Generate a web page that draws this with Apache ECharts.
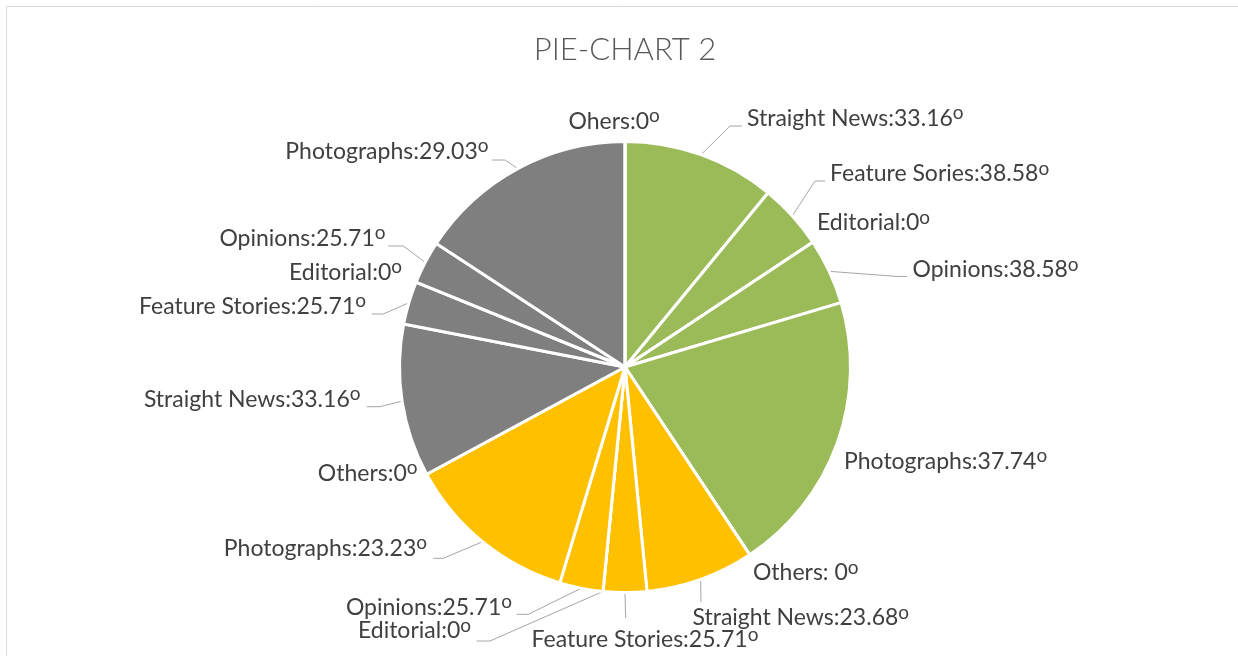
<!DOCTYPE html>
<html>
<head>
<meta charset="utf-8">
<script src="https://cdn.jsdelivr.net/npm/echarts@6/dist/echarts.min.js"></script>
<style>
html,body{margin:0;padding:0;background:#ffffff;}
#chart{width:1238px;height:656px;}
</style>
</head>
<body>
<div id="chart"></div>
<script>
// ---- data ----
const groupColors = ['#9BBB59', '#FFC000', '#7F7F7F'];
const sliceNames = [
  'Straight News', 'Feature Sories', 'Editorial', 'Opinions', 'Photographs', 'Others',
  'Straight News', 'Feature Stories', 'Editorial', 'Opinions', 'Photographs', 'Others',
  'Straight News', 'Feature Stories', 'Editorial', 'Opinions', 'Photographs', 'Ohers'
];
// slice sizes
const sliceValues = [
  39.4, 17.0, 0, 17.0, 73.0, 0,
  28.0, 11.2, 0, 11.2, 44.8, 0,
  39.4, 11.1, 0, 11.1, 56.8, 0
];
// numbers shown in the labels
const labelDegrees = [
  '33.16', '38.58', '0', '38.58', '37.74', '0',
  '23.68', '25.71', '0', '25.71', '23.23', '0',
  '33.16', '25.71', '0', '25.71', '29.03', '0'
];
const labelSeparators = [
  ':', ':', ':', ':', ':', ': ',
  ':', ':', ':', ':', ':', ':',
  ':', ':', ':', ':', ':', ':'
];

// ---- label layout (x, y, align, elbowX, elbowY, endX) ----
const LABEL_LAYOUT = [
  [747, 118.5, 'left', 730, 126, 742],
  [830, 174, 'left', 815, 181, 825],
  [817, 223, 'left', null],
  [912.5, 270, 'left', 898, 276.5, 907],
  [844, 461.5, 'left', null],
  [753, 573, 'left', null],
  [692.5, 618, 'left', 701, 602, 701],
  [531.5, 640, 'left', 625.7, 618, 625.7],
  [471, 631, 'right', 490, 641, 476.7],
  [512, 607.5, 'right', 528.3, 614.3, 516.7],
  [427, 548.7, 'right', 443.3, 558.3, 433.3],
  [417.5, 473.3, 'right', null],
  [360.5, 399.5, 'right', 380, 406.7, 366.7],
  [366, 306.7, 'right', 383.3, 314, 371.7],
  [402, 272.5, 'right', null],
  [385.5, 238.3, 'right', 403.3, 246, 388.3],
  [488.5, 151.7, 'right', 505, 160, 491.7],
  [568.5, 121.7, 'left', null]
];

const FONT = 'Lato, "Open Sans", sans-serif';
const chart = echarts.init(document.getElementById('chart'), null, {renderer: 'canvas'});

const pieData = sliceValues.map(function (v, i) {
  return {
    value: v,
    name: sliceNames[i] + ' ' + i,
    itemStyle: {color: groupColors[Math.floor(i / 6)]},
    labelLine: {show: LABEL_LAYOUT[i][3] != null}
  };
});

chart.setOption({
  animation: false,
  backgroundColor: '#ffffff',
  title: {
    text: 'PIE-CHART 2',
    left: 625,
    top: 34,
    textAlign: 'center',
    padding: 0,
    textStyle: {fontFamily: FONT, fontWeight: 300, fontSize: 31, color: '#595959'}
  },
  graphic: [{
    type: 'rect',
    z: -10,
    silent: true,
    shape: {x: 6.5, y: 6.5, width: 1300, height: 700},
    style: {fill: 'none', stroke: '#D9D9D9', lineWidth: 1}
  }],
  series: [{
    type: 'pie',
    center: [625, 367],
    radius: 225.5,
    startAngle: 90,
    clockwise: true,
    avoidLabelOverlap: false,
    emphasis: {disabled: true},
    itemStyle: {borderColor: '#ffffff', borderWidth: 3},
    label: {
      show: true,
      position: 'outside',
      formatter: function (p) {
        const i = p.dataIndex;
        return '{t|' + sliceNames[i] + labelSeparators[i] + labelDegrees[i] + '}{s|o}';
      },
      rich: {
        t: {fontFamily: FONT, fontSize: 23, color: '#404040'},
        s: {fontFamily: FONT, fontSize: 19, color: '#404040', padding: [0, 0, 11, 0]}
      }
    },
    labelLine: {show: true, length: 10, length2: 10, lineStyle: {color: '#A6A6A6', width: 1}},
    labelLayout: function (p) {
      const L = LABEL_LAYOUT[p.dataIndex];
      const out = {x: L[0], y: L[1], align: L[2], verticalAlign: 'middle'};
      if (L[3] != null && p.labelLinePoints && p.labelLinePoints.length) {
        const s = p.labelLinePoints[0];
        out.labelLinePoints = [s, [L[3], L[4]], [L[5], L[4]]];
      }
      return out;
    },
    data: pieData
  }]
});
</script>
</body>
</html>
